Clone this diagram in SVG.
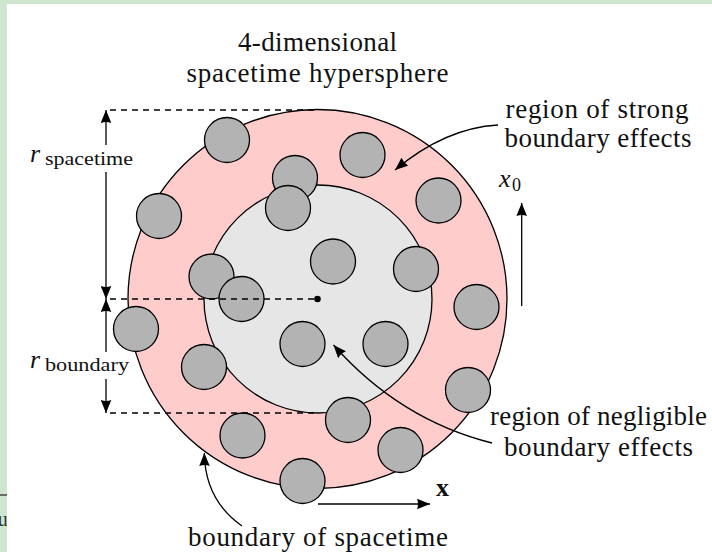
<svg xmlns="http://www.w3.org/2000/svg" width="712" height="552" viewBox="0 0 712 552">
<defs>
<style>
.bg{fill:#cde6cd}
.outer{fill:#ffcccc;stroke:#000;stroke-width:1.3}
.inner{fill:#e6e6e6;stroke:#000;stroke-width:1.3}
.p{fill:#b3b3b3;stroke:#000;stroke-width:1.3}
.dash{stroke:#000;stroke-width:1.3;stroke-dasharray:6 5;fill:none}
.ln{stroke:#000;stroke-width:1.3;fill:none}
.t{font-family:"Liberation Serif","Times New Roman",serif;font-size:27px;fill:#111}
.ti{font-family:"Liberation Serif","Times New Roman",serif;font-size:26px;font-style:italic;fill:#111}
.ts{font-family:"Liberation Serif","Times New Roman",serif;font-size:18px;fill:#111}
.tb{font-family:"Liberation Serif","Times New Roman",serif;font-size:26px;font-weight:bold;fill:#111}
</style>
<marker id="ah" viewBox="0 0 13 11" refX="13" refY="5.5" markerWidth="13" markerHeight="11" markerUnits="userSpaceOnUse" orient="auto-start-reverse">
<path d="M0,0.2 L13,5.5 L0,10.8 Q2,5.5 0,0.2 z" fill="#000"/>
</marker>
</defs>
<rect class="bg" x="0" y="0" width="712" height="552"/>
<text x="-10" y="526" font-family="Liberation Serif, serif" font-size="20" fill="#333">su</text>
<line x1="0" y1="495" x2="7" y2="495" stroke="#222" stroke-width="1.2"/>
<rect x="7" y="4" width="705" height="548" fill="#fff"/>

<g id="spacetime">
<circle class="outer" cx="317.5" cy="299" r="189.5"/>
</g>
<g id="interior">
<circle class="inner" cx="318" cy="299" r="114"/>
</g>
<g id="particles">
<circle class="p" cx="227" cy="140" r="22.5"/>
<circle class="p" cx="362.5" cy="155" r="22.5"/>
<circle class="p" cx="295" cy="178" r="22.5"/>
<circle class="p" cx="288" cy="208" r="22.5"/>
<circle class="p" cx="159" cy="216" r="22.5"/>
<circle class="p" cx="438.5" cy="200.5" r="22.5"/>
<circle class="p" cx="333" cy="261.5" r="22.5"/>
<circle class="p" cx="416" cy="269" r="22.5"/>
<circle class="p" cx="211.5" cy="276.5" r="22.5"/>
<circle class="p" cx="241.5" cy="299" r="22.5"/>
<circle class="p" cx="476.5" cy="307" r="22.5"/>
<circle class="p" cx="136" cy="329" r="22.5"/>
<circle class="p" cx="302.5" cy="344" r="22.5"/>
<circle class="p" cx="385.5" cy="344" r="22.5"/>
<circle class="p" cx="204" cy="367" r="22.5"/>
<circle class="p" cx="468" cy="390" r="22.5"/>
<circle class="p" cx="348" cy="420" r="22.5"/>
<circle class="p" cx="242.5" cy="435.5" r="22.5"/>
<circle class="p" cx="400.5" cy="450" r="22.5"/>
<circle class="p" cx="302.5" cy="481" r="22.5"/>
</g>

<g id="connectors">
<path class="dash" d="M110,110 H318"/>
<path class="dash" d="M110,299 H316"/>
<path class="dash" d="M110,413 H318"/>
<circle cx="317.5" cy="299" r="3.3" fill="#000"/>
<path class="ln" d="M106,145 V110" marker-end="url(#ah)"/>
<path class="ln" d="M106,172 V299" marker-end="url(#ah)"/>
<path class="ln" d="M106,352 V299" marker-end="url(#ah)"/>
<path class="ln" d="M106,379 V413" marker-end="url(#ah)"/>
<path class="ln" d="M498,125 Q445,128 395,170" marker-end="url(#ah)"/>
<path class="ln" d="M492,443 Q400,420 333.5,345" marker-end="url(#ah)"/>
<path class="ln" d="M242,526 Q205,500 204.3,453" marker-end="url(#ah)"/>
<path class="ln" d="M521.7,306 V203" marker-end="url(#ah)"/>
<path class="ln" d="M318,504 H430" marker-end="url(#ah)"/>
</g>

<g id="labels">
<text class="t" x="317.5" y="51" text-anchor="middle" textLength="159" lengthAdjust="spacing">4-dimensional</text>
<text class="t" x="317.5" y="82" text-anchor="middle" textLength="262" lengthAdjust="spacing">spacetime hypersphere</text>
<text class="t" x="597" y="118" text-anchor="middle" textLength="183" lengthAdjust="spacing">region of strong</text>
<text class="t" x="598" y="147" text-anchor="middle" textLength="187" lengthAdjust="spacing">boundary effects</text>
<text class="t" x="598.5" y="425" text-anchor="middle" textLength="217" lengthAdjust="spacing">region of negligible</text>
<text class="t" x="598.5" y="456" text-anchor="middle" textLength="189" lengthAdjust="spacing">boundary effects</text>
<text class="t" x="318" y="546" text-anchor="middle" textLength="260" lengthAdjust="spacing">boundary of spacetime</text>
<text class="ti" x="30" y="162">r</text>
<text class="ts" x="45" y="165" textLength="88" lengthAdjust="spacingAndGlyphs">spacetime</text>
<text class="ti" x="30" y="368">r</text>
<text class="ts" x="45" y="371" textLength="84" lengthAdjust="spacingAndGlyphs">boundary</text>
<text class="ti" x="499" y="187">x</text>
<text class="ts" x="512" y="191">0</text>
<text class="tb" x="436" y="496">x</text>
</g>
</svg>
